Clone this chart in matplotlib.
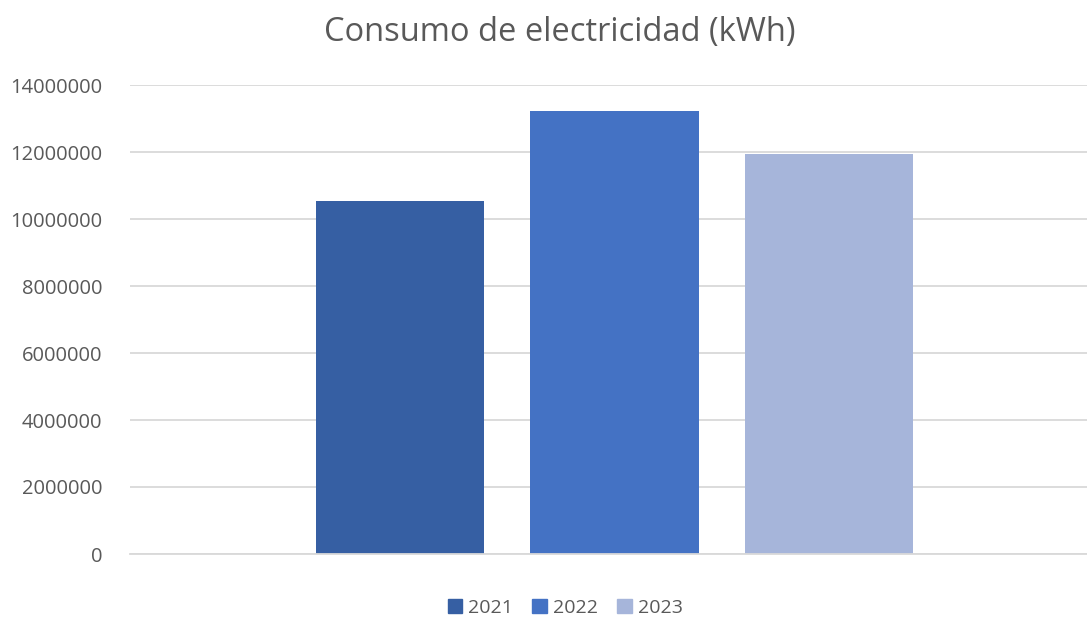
import matplotlib
matplotlib.use("Agg")
import matplotlib.pyplot as plt
from matplotlib.patches import Patch

series = ["2021", "2022", "2023"]
values = [10540000, 13220000, 11940000]
colors = ["#365FA3", "#4472C4", "#A6B5DA"]
yticks = [0, 2000000, 4000000, 6000000, 8000000, 10000000, 12000000, 14000000]

plt.rcParams['font.family'] = ['Open Sans', 'DejaVu Sans']

W, H = 1087, 618
fig = plt.figure(figsize=(W/100, H/100), dpi=100)
ax = fig.add_axes([130/W, 1-554/H, (1087-130)/W, (554-85)/H])

pos = [-1, 0, 1]
for p, v, c, s in zip(pos, values, colors, series):
    ax.bar(p, v, width=0.787, color=c, label=s, zorder=3)

ax.set_xlim(-2.259, 2.203)
ax.set_ylim(0, 14000000)
ax.set_yticks(yticks)
ax.set_yticklabels([str(t) for t in yticks], fontsize=14.5, color="#595959")
ax.set_xticks([])
ax.yaxis.grid(True, color="#D9D9D9", linewidth=1.3, zorder=0)
ax.tick_params(axis='y', length=0, pad=20)
for sp in ["top", "right", "left"]:
    ax.spines[sp].set_visible(False)
ax.spines["bottom"].set_color("#D9D9D9")
ax.spines["bottom"].set_linewidth(1.3)
ax.spines["bottom"].set_zorder(4)

fig.text(560/W, 1-33/H, "Consumo de electricidad (kWh)", ha="center", va="center",
         fontsize=23.5, color="#595959")

handles = [Patch(color=c, label=s) for c, s in zip(colors, series)]
fig.legend(handles=handles, loc="center", bbox_to_anchor=(565/W, 1-608/H), ncol=3,
           frameon=False, fontsize=14, handlelength=0.75, handleheight=0.75,
           handletextpad=0.3, columnspacing=1.0, labelcolor="#595959")

fig.savefig("out.png", dpi=100)
